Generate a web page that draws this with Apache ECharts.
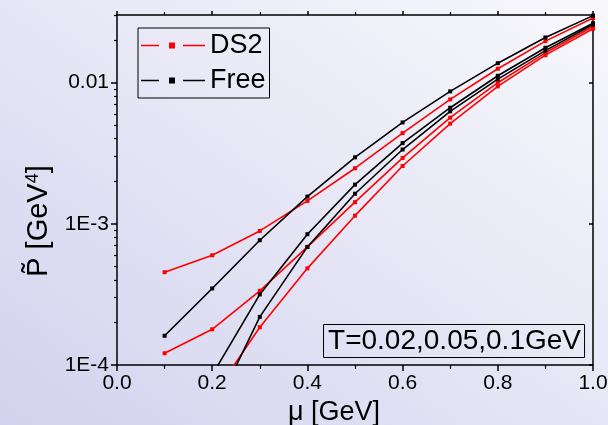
<!DOCTYPE html>
<html>
<head>
<meta charset="utf-8">
<script src="https://cdn.jsdelivr.net/npm/echarts@6/dist/echarts.min.js"></script>
<style>
  html, body { margin: 0; padding: 0; }
  body {
    width: 608px; height: 425px; overflow: hidden;
    background: linear-gradient(to top right, #d2d2ee 0%, #e6e6f6 50%, #f8f8fc 100%);
  }
  #chart { width: 608px; height: 425px; }
</style>
</head>
<body>
<div id="chart"></div>
<script>
// chemical potential mu [GeV]
const mu = [0.1, 0.2, 0.3, 0.4, 0.5, 0.6, 0.7, 0.8, 0.9, 1.0];

// scaled pressure P~ [GeV^4], DS2 model, T = 0.02, 0.05, 0.1 GeV
const ds2T002 = [null, 5.9e-5, 1.85e-4, 4.83e-4, 1.14e-3, 2.56e-3, 5.11e-3, 9.37e-3, 1.56e-2, 2.40e-2];
const ds2T005 = [1.21e-4, 1.79e-4, 3.35e-4, 6.85e-4, 1.42e-3, 2.92e-3, 5.63e-3, 9.95e-3, 1.62e-2, 2.49e-2];
const ds2T010 = [4.54e-4, 5.98e-4, 8.89e-4, 1.45e-3, 2.47e-3, 4.38e-3, 7.58e-3, 1.25e-2, 1.96e-2, 2.86e-2];

// free quark gas, same temperatures
const freeT002 = [null, 4.4e-5, 2.19e-4, 6.85e-4, 1.63e-3, 3.35e-3, 6.24e-3, 1.055e-2, 1.68e-2, 2.57e-2];
const freeT005 = [null, 8.5e-5, 3.16e-4, 8.43e-4, 1.89e-3, 3.72e-3, 6.62e-3, 1.115e-2, 1.76e-2, 2.62e-2];
const freeT010 = [1.61e-4, 3.48e-4, 7.64e-4, 1.556e-3, 2.95e-3, 5.21e-3, 8.64e-3, 1.368e-2, 2.08e-2, 2.97e-2];

// axis ticks
const yMajorTicks = [1e-4, 1e-3, 1e-2];
const yMajorLabels = ['1E-4', '1E-3', '0.01'];
const yMinorTicks = [2e-4, 3e-4, 4e-4, 5e-4, 6e-4, 7e-4, 8e-4, 9e-4,
                     2e-3, 3e-3, 4e-3, 5e-3, 6e-3, 7e-3, 8e-3, 9e-3,
                     2e-2, 3e-2];
const xTickLabels = ['0.0', '0.2', '0.4', '0.6', '0.8', '1.0'];

const FONT = "'Liberation Sans', Arial, sans-serif";
const BLACK = '#000000';
const RED = '#ff0000';

// legend glyph: line segment, small square, line segment
const LEGEND_ICON = 'path://M0,3.2H18V4.8H0Z M28,1H34V7H28Z M42,3.2H64V4.8H42Z';

function pairs(ys) {
  return mu.map((x, i) => [x, ys[i]]);
}

function lineSeries(name, color, ys) {
  return {
    type: 'line',
    name: name,
    data: pairs(ys),
    xAxisIndex: 0,
    yAxisIndex: 0,
    symbol: 'rect',
    symbolSize: 4,
    clip: true,
    connectNulls: false,
    lineStyle: { color: color, width: 1.6 },
    itemStyle: { color: color },
    emphasis: { disabled: true },
    animation: false
  };
}

const baseX = {
  type: 'value', min: 0, max: 1, interval: 0.2,
  axisLine: { show: true, onZero: false, lineStyle: { color: BLACK, width: 1.5 } },
  axisTick: { show: true, length: 6, lineStyle: { color: BLACK, width: 1.5 } },
  minorTick: { show: true, splitNumber: 2, length: 4, lineStyle: { color: BLACK, width: 1.2 } },
  splitLine: { show: false }
};

function logY(position, opts) {
  return Object.assign({
    type: 'log', logBase: 10, min: 1e-4, max: 0.03, position: position,
    splitLine: { show: false },
    minorTick: { show: false }
  }, opts);
}

const chart = echarts.init(document.getElementById('chart'), null, { renderer: 'canvas' });

chart.setOption({
  backgroundColor: 'transparent',
  animation: false,
  textStyle: { fontFamily: FONT },
  grid: { left: 117, right: 15, top: 15, bottom: 60, containLabel: false, outerBoundsMode: 'none' },
  title: {
    text: 'T=0.02,0.05,0.1GeV',
    right: 23, bottom: 67,
    borderColor: BLACK, borderWidth: 1,
    padding: [2, 4, 2, 5],
    textStyle: { fontFamily: FONT, fontSize: 28, fontWeight: 'normal', color: BLACK, lineHeight: 30 }
  },
  legend: {
    data: [
      { name: 'DS2', icon: LEGEND_ICON },
      { name: 'Free', icon: LEGEND_ICON }
    ],
    orient: 'vertical',
    left: 138, top: 28,
    borderColor: BLACK, borderWidth: 1,
    padding: [4, 4, 4, 3],
    itemGap: 8,
    itemWidth: 64, itemHeight: 8,
    textStyle: { fontFamily: FONT, fontSize: 27, color: BLACK },
    selectedMode: false
  },
  xAxis: [
    Object.assign({}, baseX, {
      position: 'bottom',
      axisLabel: {
        fontFamily: FONT, fontSize: 21, color: BLACK, margin: 8,
        formatter: v => xTickLabels[Math.round(v / 0.2)]
      },
      name: 'μ [GeV]', nameLocation: 'middle', nameGap: 32,
      nameTextStyle: { fontFamily: FONT, fontSize: 27, color: BLACK, padding: [0, 42, 0, 0] }
    }),
    Object.assign({}, baseX, {
      position: 'top',
      axisLabel: { show: false },
      axisTick: { show: true, length: 4, lineStyle: { color: BLACK, width: 1.5 } },
      minorTick: { show: true, splitNumber: 2, length: 3, lineStyle: { color: BLACK, width: 1.2 } }
    })
  ],
  yAxis: [
    logY('left', {
      axisLine: { show: true, onZero: false, lineStyle: { color: BLACK, width: 1.5 } },
      axisTick: { show: true, length: 6, customValues: yMajorTicks, lineStyle: { color: BLACK, width: 1.5 } },
      axisLabel: {
        fontFamily: FONT, fontSize: 21, color: BLACK, margin: 8,
        customValues: yMajorTicks,
        formatter: v => {
          const i = yMajorTicks.findIndex(t => Math.abs(Math.log10(t) - Math.log10(v)) < 1e-6);
          return i >= 0 ? yMajorLabels[i] : '';
        }
      },
      name: '{t|P\u0303 [GeV}{s|4}{t|]}',
      nameLocation: 'middle', nameGap: 57, nameRotate: 90,
      nameTextStyle: {
        fontFamily: FONT, color: BLACK,
        padding: [0, 62, 0, 0],
        rich: {
          t: { fontFamily: FONT, fontSize: 29, color: BLACK },
          s: { fontFamily: FONT, fontSize: 18, color: BLACK, verticalAlign: 'top', padding: [0, 0, 13, 0] }
        }
      }
    }),
    logY('left', {
      axisLine: { show: false },
      axisTick: { show: true, length: 3, customValues: yMinorTicks, lineStyle: { color: BLACK, width: 1.2 } },
      axisLabel: { show: false }
    }),
    logY('right', {
      axisLine: { show: true, onZero: false, lineStyle: { color: BLACK, width: 1.5 } },
      axisTick: { show: true, inside: true, length: 4, customValues: yMajorTicks, lineStyle: { color: BLACK, width: 1.5 } },
      axisLabel: { show: false }
    }),
    logY('right', {
      axisLine: { show: false },
      axisTick: { show: true, inside: true, length: 2, customValues: yMinorTicks, lineStyle: { color: BLACK, width: 1.2 } },
      axisLabel: { show: false }
    })
  ],
  series: [
    lineSeries('DS2', RED, ds2T002),
    lineSeries('DS2', RED, ds2T005),
    lineSeries('DS2', RED, ds2T010),
    lineSeries('Free', BLACK, freeT002),
    lineSeries('Free', BLACK, freeT005),
    lineSeries('Free', BLACK, freeT010)
  ]
});
</script>
</body>
</html>
